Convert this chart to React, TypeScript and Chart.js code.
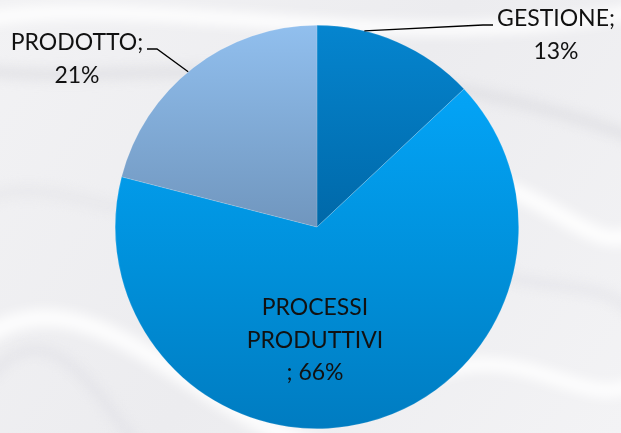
import React, { useEffect, useRef } from "react";
import { Chart, registerables } from "chart.js";

Chart.register(...registerables);

const categories = ["GESTIONE", "PROCESSI PRODUTTIVI", "PRODOTTO"];
const values = [13, 66, 21];
const percentLabels = ["13%", "66%", "21%"];

const gradientStops: [number, string][][] = [
  [[0, "#0585CF"], [0.5, "#0068A8"], [1, "#004D84"]],
  [[0, "#06A9FB"], [0.2, "#03A2F4"], [0.6, "#0090DA"], [1, "#007CC1"]],
  [[0, "#91BFEE"], [0.5, "#7096BE"], [1, "#506E92"]],
];

const FONT = "Lato, 'Open Sans', sans-serif";

const backgroundPlugin = {
  id: "marble",
  beforeDraw(chart: any) {
    const { ctx, width, height } = chart;
    ctx.save();
    const g = ctx.createLinearGradient(0, 0, width, height);
    g.addColorStop(0, "#F2F2F4");
    g.addColorStop(0.5, "#ECECEF");
    g.addColorStop(1, "#F3F3F5");
    ctx.fillStyle = g;
    ctx.fillRect(0, 0, width, height);
    ctx.filter = "blur(6px)";
    const strokes: [string, number, number[]][] = [
      ["rgba(255,255,255,0.9)", 14, [-20, 20, 150, -10, 400, 60, 640, 10]],
      ["rgba(215,215,220,0.6)", 10, [-20, 70, 120, 90, 350, 30, 640, 140]],
      ["rgba(255,255,255,0.85)", 18, [-20, 340, 90, 260, 200, 420, 330, 450]],
      ["rgba(220,220,226,0.6)", 8, [-20, 390, 40, 300, 90, 380, 140, 450]],
      ["rgba(255,255,255,0.9)", 16, [480, 180, 560, 200, 600, 260, 640, 230]],
      ["rgba(222,222,228,0.6)", 8, [460, 260, 540, 300, 600, 270, 640, 320]],
      ["rgba(255,255,255,0.9)", 14, [420, 380, 520, 330, 590, 420, 640, 380]],
      ["rgba(225,225,230,0.5)", 10, [-20, 200, 60, 170, 120, 230, 160, 200]],
    ];
    for (const [c, w, p] of strokes) {
      ctx.strokeStyle = c;
      ctx.lineWidth = w;
      ctx.beginPath();
      ctx.moveTo(p[0], p[1]);
      ctx.bezierCurveTo(p[2], p[3], p[4], p[5], p[6], p[7]);
      ctx.stroke();
    }
    ctx.restore();
  },
};

const labelPlugin = {
  id: "pieLabels",
  afterDraw(chart: any) {
    const { ctx } = chart;
    const arcs = chart.getDatasetMeta(0).data;
    if (!arcs.length) return;
    const cx = arcs[0].x;
    const cy = arcs[0].y;
    const r = arcs[0].outerRadius;
    ctx.save();
    ctx.fillStyle = "#111111";
    ctx.font = `23px ${FONT}`;
    ctx.textAlign = "center";
    ctx.textBaseline = "alphabetic";
    const lh = 32.5;

    // GESTIONE (outside, right-top)
    const gx = cx + 239;
    const gy = cy - 201;
    ctx.fillText(categories[0] + ";", gx, gy);
    ctx.fillText(percentLabels[0], gx, gy + lh);

    // PROCESSI PRODUTTIVI (inside)
    const px = cx - 2;
    const py = cy + 88;
    const words = categories[1].split(" ");
    ctx.fillText(words[0], px, py);
    ctx.fillText(words[1], px, py + lh);
    ctx.fillText("; " + percentLabels[1], px, py + 2 * lh);

    // PRODOTTO (outside, left-top)
    const dx = cx - 240;
    const dy = cy - 177;
    ctx.fillText(categories[2] + ";", dx, dy);
    ctx.fillText(percentLabels[2], dx, dy + lh);

    // leader lines
    ctx.strokeStyle = "#000000";
    ctx.lineWidth = 1.3;
    const a0 = (-90 + (values[0] / 2) * 3.6 * 0.58) * Math.PI / 180;
    ctx.beginPath();
    ctx.moveTo(cx + r * Math.cos(a0), cy + r * Math.sin(a0));
    ctx.lineTo(cx + 166, cy - 202);
    ctx.lineTo(cx + 176, cy - 202);
    ctx.stroke();

    const a2 = (-90 - (values[2] / 2) * 3.6 * 1.05) * Math.PI / 180;
    ctx.beginPath();
    ctx.moveTo(cx + r * Math.cos(a2), cy + r * Math.sin(a2));
    ctx.lineTo(cx - 160, cy - 178);
    ctx.lineTo(cx - 170, cy - 178);
    ctx.stroke();
    ctx.restore();
  },
};

function makeGradient(chart: any, idx: number) {
  const arcs = chart.getDatasetMeta(0).data;
  const { ctx, chartArea } = chart;
  if (!chartArea) return "#0090DA";
  let top = chartArea.top;
  let bottom = chartArea.bottom;
  if (arcs.length && arcs[0].outerRadius) {
    top = arcs[0].y - arcs[0].outerRadius;
    bottom = arcs[0].y + arcs[0].outerRadius;
  }
  const g = ctx.createLinearGradient(0, top, 0, bottom);
  for (const [o, c] of gradientStops[idx]) g.addColorStop(o, c);
  return g;
}

export default function App() {
  const ref = useRef<HTMLCanvasElement>(null);
  useEffect(() => {
    document.body.style.margin = "0";
    const chart = new Chart(ref.current!, {
      type: "pie",
      data: {
        labels: categories,
        datasets: [
          {
            data: values,
            backgroundColor: (c: any) => makeGradient(c.chart, c.dataIndex),
            borderColor: "rgba(255,255,255,0.25)",
            borderWidth: 0.6,
          },
        ],
      },
      options: {
        responsive: false,
        animation: false,
        layout: { padding: { left: 113, right: 100, top: 25, bottom: 4 } },
        plugins: { legend: { display: false }, tooltip: { enabled: false } },
      },
      plugins: [backgroundPlugin, labelPlugin],
    });
    return () => chart.destroy();
  }, []);
  return <canvas ref={ref} width={621} height={433} style={{ display: "block" }} />;
}
